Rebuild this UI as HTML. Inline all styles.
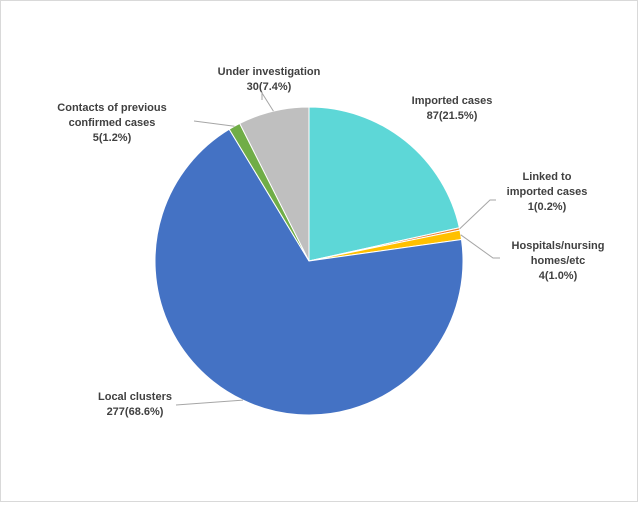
<!DOCTYPE html>
<html><head><meta charset="utf-8">
<style>
html,body{margin:0;padding:0;background:#fff;}
#wrap{position:relative;width:638px;height:502px;}
svg text{font-family:"Liberation Sans",sans-serif;font-size:11px;font-weight:bold;fill:#404040;}
</style></head>
<body>
<div id="wrap">
<svg id="chart" width="638" height="502">
<rect x="0.5" y="0.5" width="637" height="501" fill="#fff" stroke="#d9d9d9"/>
<g id="slices"></g>
<g id="labels"></g>
</svg>
</div>
<script>
const categories = ["Imported cases","Linked to imported cases","Hospitals/nursing homes/etc","Local clusters","Contacts of previous confirmed cases","Under investigation"];
const values = [87,1,4,277,5,30];
const percentLabels = ["21.5%","0.2%","1.0%","68.6%","1.2%","7.4%"];
const colors = ["#5dd7d7","#ed7d31","#ffc000","#4472c4","#70ad47","#bfbfbf"];
const cx=309, cy=261, r=154;
const NS="http://www.w3.org/2000/svg";
const total=values.reduce((a,b)=>a+b,0);
const sg=document.getElementById('slices');
const lg=document.getElementById('labels');
function pt(a,rr){return [cx+rr*Math.sin(a), cy-rr*Math.cos(a)];}
let acc=0;
const mids=[];
values.forEach((v,i)=>{
  const a0=acc/total*2*Math.PI; acc+=v; const a1=acc/total*2*Math.PI;
  mids.push((a0+a1)/2);
  const p0=pt(a0,r), p1=pt(a1,r);
  const large=(a1-a0)>Math.PI?1:0;
  const path=document.createElementNS(NS,'path');
  path.setAttribute('d',`M${cx},${cy} L${p0[0]},${p0[1]} A${r},${r} 0 ${large} 1 ${p1[0]},${p1[1]} Z`);
  path.setAttribute('fill',colors[i]);
  path.setAttribute('stroke','#fff');
  path.setAttribute('stroke-width','1');
  
  
  sg.appendChild(path);
});
const layout=[
 {lines:["Imported cases"],x:452,y:104,anchor:"middle",lead:null},
 {lines:["Linked to","imported cases"],x:547,y:180,anchor:"middle",lead:[[490,200],[496,200]]},
 {lines:["Hospitals/nursing","homes/etc"],x:558,y:249,anchor:"middle",lead:[[493,258],[500,258]]},
 {lines:["Local clusters"],x:135,y:400,anchor:"middle",lead:[[176,405]]},
 {lines:["Contacts of previous","confirmed cases"],x:112,y:111,anchor:"middle",lead:[[194,121]]},
 {lines:["Under investigation"],x:269,y:75,anchor:"middle",lead:[[262,93],[262,100]]}
];
layout.forEach((L,i)=>{
  const lines=L.lines.concat([values[i]+"("+percentLabels[i]+")"]);
  const t=document.createElementNS(NS,'text');
  t.setAttribute('text-anchor',L.anchor);
  
  
  lines.forEach((s,j)=>{
    const ts=document.createElementNS(NS,'tspan');
    ts.setAttribute('x',L.x); ts.setAttribute('y',L.y+j*15);
    ts.textContent=s; t.appendChild(ts);
  });
  lg.appendChild(t);
  if(L.lead){
    const e=pt(mids[i],r);
    const pts=[[e[0],e[1]]].concat(L.lead);
    const pl=document.createElementNS(NS,'polyline');
    pl.setAttribute('points',pts.map(p=>p.join(',')).join(' '));
    pl.setAttribute('fill','none');
    pl.setAttribute('stroke','#a6a6a6');
    pl.setAttribute('stroke-width','1');
    
    
    lg.appendChild(pl);
  }
});
</script>
</body></html>
